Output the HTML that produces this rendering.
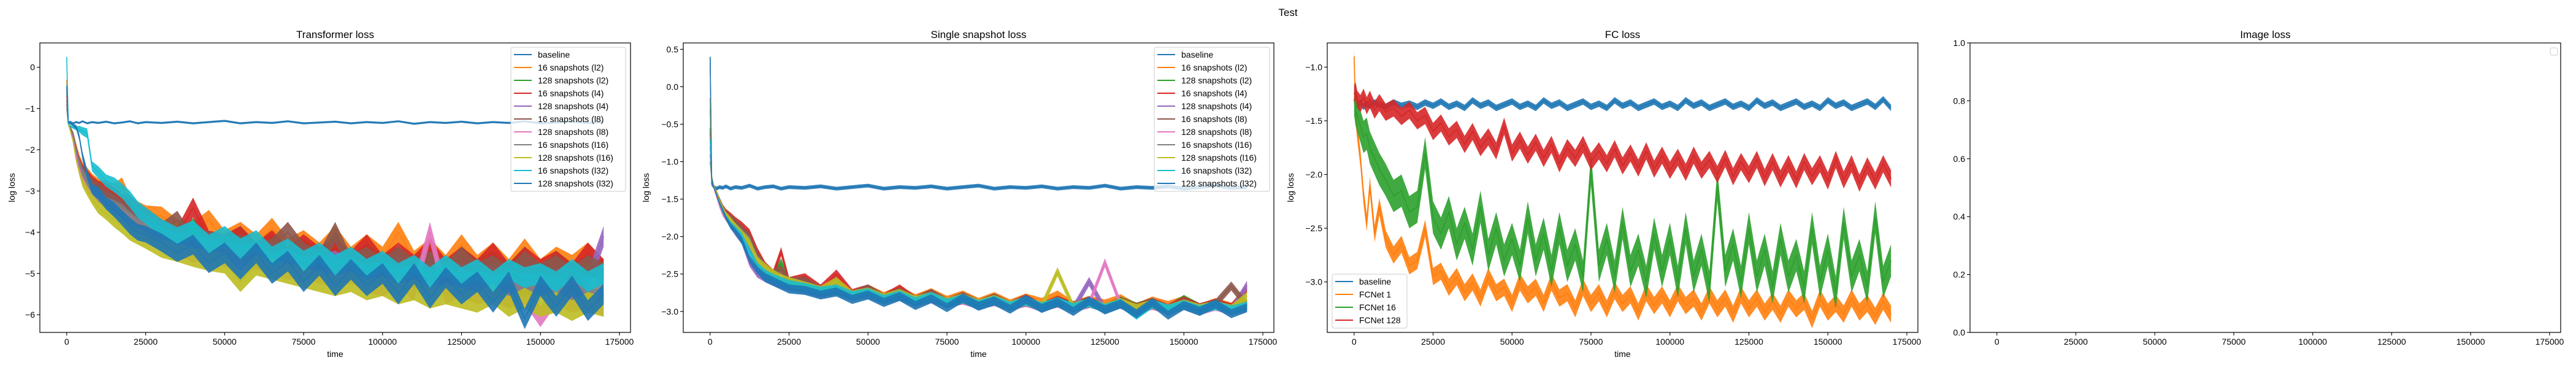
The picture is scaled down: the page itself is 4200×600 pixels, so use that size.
<!DOCTYPE html>
<html><head><meta charset="utf-8"><style>
html,body{margin:0;padding:0;background:#fff}
svg{display:block}
text{font-family:"Liberation Sans Narrow","Liberation Sans",sans-serif;fill:#000}
</style></head><body>
<svg id="fig" width="4200" height="600" viewBox="0 0 4200 600">
<text x="2100" y="26" font-size="17" text-anchor="middle">Test</text>
</svg>
<script>
const colors=['#1f77b4','#ff7f0e','#2ca02c','#d62728','#9467bd','#8c564b','#e377c2','#7f7f7f','#bcbd22','#17becf','#1f77b4'];
const snapNames=['baseline','16 snapshots (l2)','128 snapshots (l2)','16 snapshots (l4)','128 snapshots (l4)','16 snapshots (l8)','128 snapshots (l8)','16 snapshots (l16)','128 snapshots (l16)','16 snapshots (l32)','128 snapshots (l32)'];
const xTicks=[0,25000,50000,75000,100000,125000,150000,175000];
const times=[0,500,1000,2000,3000,4000,5000,6500,8000,10000,12500,15000,17500,20000,22500,25000,30000,35000,40000,45000,50000,55000,60000,65000,70000,75000,80000,85000,90000,95000,100000,105000,110000,115000,120000,125000,130000,135000,140000,145000,150000,155000,160000,165000,170000];
const fcTimes=[0,500,1000,2000,3000,4000,5000,6500,8000,10000,12500,15000,17500,20000,22500,25000,27500,30000,32500,35000,37500,40000,42500,45000,47500,50000,52500,55000,57500,60000,62500,65000,67500,70000,72500,75000,77500,80000,82500,85000,87500,90000,92500,95000,97500,100000,102500,105000,107500,110000,112500,115000,117500,120000,122500,125000,127500,130000,132500,135000,137500,140000,142500,145000,147500,150000,152500,155000,157500,160000,162500,165000,167500,170000];

const tSpread=[0,0.02,0.02,0.03,0.05,0.08,0.1,0.12,0.12,0.15,0.15,0.18,0.18,0.2,0.2,0.2,0.22,0.22,0.24,0.24,0.25,0.25,0.25,0.25,0.25,0.25,0.25,0.25,0.25,0.25,0.25,0.25,0.25,0.25,0.25,0.25,0.25,0.25,0.25,0.25,0.25,0.25,0.25,0.25,0.25];
const sSpread=[0,0.01,0.01,0.02,0.02,0.03,0.03,0.04,0.04,0.05,0.05,0.05,0.06,0.06,0.06,0.06,0.06,0.06,0.06,0.06,0.06,0.06,0.06,0.06,0.06,0.06,0.06,0.06,0.06,0.06,0.06,0.06,0.06,0.06,0.06,0.06,0.06,0.06,0.06,0.06,0.06,0.06,0.06,0.06,0.06];
const baseSpread=0.025;
const fcSpread=[0.03,0.08,0.15,0.08];

// Transformer loss
const tBaseline=[-0.5,-1.35,-1.32,-1.36,-1.33,-1.35,-1.31,-1.36,-1.33,-1.35,-1.32,-1.36,-1.34,-1.31,-1.36,-1.33,-1.35,-1.32,-1.36,-1.33,-1.3,-1.36,-1.33,-1.35,-1.31,-1.36,-1.34,-1.32,-1.36,-1.33,-1.35,-1.31,-1.37,-1.33,-1.35,-1.32,-1.36,-1.33,-1.35,-1.31,-1.36,-1.34,-1.32,-1.35,-1.33];
const tL2s16=[-0.3,-1.36,-1.42,-1.6,-1.9,-2.2,-2.4,-2.55,-2.7,-2.85,-2.9,-3.0,-2.85,-3.3,-3.45,-3.55,-3.6,-3.9,-4.0,-3.7,-4.2,-4.0,-4.3,-3.9,-4.4,-4.2,-4.5,-4.1,-4.6,-4.3,-4.6,-4.0,-4.7,-4.4,-4.8,-4.3,-4.8,-4.5,-4.9,-4.4,-4.9,-4.6,-4.8,-4.5,-5.0];
const tL2s128=[-0.6,-1.37,-1.45,-1.65,-2.0,-2.3,-2.5,-2.65,-2.8,-2.95,-3.1,-3.2,-3.35,-3.5,-3.7,-3.8,-4.0,-4.2,-3.9,-4.3,-4.4,-4.1,-4.5,-4.3,-4.6,-4.4,-4.7,-4.3,-4.8,-4.5,-4.8,-4.6,-4.9,-4.5,-5.0,-4.6,-4.9,-4.7,-5.0,-4.6,-5.1,-4.7,-5.0,-4.8,-4.9];
const tL4s16=[-0.7,-1.36,-1.43,-1.6,-1.95,-2.25,-2.45,-2.6,-2.75,-2.9,-2.95,-3.1,-3.25,-3.3,-3.5,-3.6,-3.9,-4.1,-3.4,-4.2,-4.3,-4.1,-4.5,-4.2,-4.6,-4.3,-4.6,-4.4,-4.7,-4.3,-4.8,-4.5,-4.8,-4.4,-4.9,-4.6,-4.9,-4.5,-5.0,-4.6,-4.9,-4.7,-5.0,-4.5,-4.9];
const tL4s128=[-0.9,-1.38,-1.46,-1.7,-2.05,-2.4,-2.6,-2.75,-2.9,-3.05,-3.2,-3.3,-3.45,-3.6,-3.75,-3.9,-4.1,-4.2,-4.35,-4.3,-4.5,-4.4,-4.6,-4.5,-4.7,-4.6,-4.8,-4.7,-4.9,-4.8,-5.0,-4.8,-5.1,-4.9,-5.1,-5.0,-5.2,-5.0,-5.3,-5.1,-5.3,-5.1,-5.4,-5.2,-4.1];
const tL8s16=[-0.8,-1.36,-1.44,-1.6,-1.95,-2.3,-2.5,-2.7,-2.8,-2.95,-3.1,-3.25,-3.4,-3.55,-3.65,-3.8,-4.0,-3.7,-4.3,-4.2,-4.4,-4.3,-4.6,-4.4,-4.0,-4.5,-4.7,-4.0,-4.8,-4.6,-4.9,-4.6,-4.9,-4.7,-5.0,-4.6,-5.0,-4.8,-5.1,-4.7,-5.0,-4.8,-5.1,-4.8,-5.0];
const tL8s128=[-0.5,-1.38,-1.48,-1.75,-2.15,-2.5,-2.7,-2.9,-3.0,-3.15,-3.3,-3.45,-3.6,-3.75,-3.9,-4.0,-4.2,-4.35,-4.5,-4.45,-4.6,-4.7,-4.65,-4.8,-4.9,-4.85,-5.0,-5.1,-5.0,-5.2,-5.3,-5.1,-5.4,-4.0,-5.5,-5.3,-5.5,-5.4,-5.6,-5.5,-6.05,-5.5,-5.7,-5.6,-5.8];
const tL16s16=[-1.0,-1.37,-1.45,-1.65,-2.0,-2.3,-2.55,-2.75,-2.95,-3.1,-3.3,-3.4,-3.5,-3.7,-3.85,-3.95,-4.1,-4.25,-4.3,-4.4,-4.5,-4.55,-4.6,-4.7,-4.75,-4.8,-4.85,-4.9,-4.95,-5.0,-5.0,-5.05,-5.1,-5.1,-5.15,-5.2,-5.2,-5.25,-5.3,-5.3,-5.3,-5.35,-5.4,-5.4,-5.4];
const tL16s128=[-0.4,-1.38,-1.5,-1.8,-2.25,-2.55,-2.8,-3.0,-3.2,-3.4,-3.55,-3.7,-3.85,-4.0,-4.1,-4.2,-4.4,-4.5,-4.6,-4.7,-4.75,-5.2,-4.8,-4.9,-5.0,-5.1,-5.2,-5.3,-5.2,-5.4,-5.3,-5.5,-5.4,-5.6,-5.5,-5.6,-5.7,-5.5,-5.8,-5.6,-5.8,-5.7,-5.9,-5.7,-5.8];
const tL32s16=[0.25,-1.36,-1.42,-1.46,-1.48,-1.5,-1.55,-1.6,-2.4,-2.55,-2.75,-2.85,-3.0,-3.2,-3.45,-3.6,-3.9,-4.1,-3.95,-4.3,-4.1,-4.4,-4.2,-4.6,-4.4,-4.7,-4.5,-4.8,-4.6,-4.9,-4.7,-5.0,-4.8,-5.1,-4.8,-5.1,-4.9,-5.2,-4.9,-5.1,-5.0,-5.2,-4.9,-5.2,-5.0];
const tL32s128=[-0.45,-1.33,-1.36,-1.4,-1.45,-1.7,-2.15,-2.6,-2.95,-3.05,-3.3,-3.45,-3.65,-3.85,-4.0,-4.05,-4.25,-4.5,-4.3,-4.75,-4.5,-4.9,-4.5,-5.0,-4.7,-5.2,-4.8,-5.3,-4.9,-5.3,-5.0,-5.5,-5.0,-5.6,-5.1,-5.5,-5.2,-5.7,-5.2,-6.1,-5.3,-5.8,-5.3,-5.9,-5.5];

// Single snapshot loss
const sBaseline=[0.4,-1.3,-1.33,-1.36,-1.34,-1.35,-1.33,-1.36,-1.34,-1.35,-1.32,-1.36,-1.34,-1.33,-1.36,-1.34,-1.35,-1.33,-1.36,-1.34,-1.32,-1.36,-1.34,-1.35,-1.33,-1.36,-1.34,-1.32,-1.36,-1.34,-1.35,-1.33,-1.36,-1.34,-1.35,-1.32,-1.36,-1.34,-1.35,-1.33,-1.36,-1.34,-1.32,-1.35,-1.34];
const sL2s16=[-0.15,-1.2,-1.3,-1.42,-1.52,-1.62,-1.7,-1.8,-1.88,-1.98,-2.15,-2.35,-2.45,-2.5,-2.4,-2.62,-2.6,-2.72,-2.65,-2.78,-2.7,-2.8,-2.72,-2.83,-2.75,-2.85,-2.78,-2.88,-2.8,-2.9,-2.82,-2.88,-2.78,-2.92,-2.85,-2.9,-2.83,-2.95,-2.86,-2.92,-2.85,-2.96,-2.88,-2.94,-2.9];
const sL2s128=[-0.55,-1.22,-1.31,-1.42,-1.53,-1.63,-1.71,-1.8,-1.87,-1.97,-2.12,-2.33,-2.43,-2.52,-2.35,-2.64,-2.58,-2.74,-2.6,-2.79,-2.72,-2.83,-2.74,-2.86,-2.77,-2.89,-2.8,-2.9,-2.82,-2.93,-2.84,-2.95,-2.85,-2.93,-2.87,-2.96,-2.86,-2.94,-2.88,-2.97,-2.84,-2.95,-2.9,-2.96,-2.9];
const sL4s16=[-0.3,-1.2,-1.3,-1.4,-1.5,-1.6,-1.66,-1.72,-1.78,-1.85,-1.95,-2.2,-2.4,-2.5,-2.2,-2.6,-2.55,-2.7,-2.5,-2.76,-2.7,-2.82,-2.7,-2.85,-2.76,-2.88,-2.8,-2.9,-2.82,-2.92,-2.83,-2.94,-2.85,-2.93,-2.86,-2.95,-2.87,-2.95,-2.88,-2.96,-2.86,-2.95,-2.89,-2.95,-2.7];
const sL4s128=[-0.9,-1.22,-1.32,-1.45,-1.58,-1.68,-1.75,-1.85,-1.95,-2.05,-2.35,-2.5,-2.55,-2.6,-2.64,-2.67,-2.7,-2.76,-2.72,-2.8,-2.76,-2.85,-2.79,-2.88,-2.81,-2.9,-2.83,-2.92,-2.85,-2.94,-2.87,-2.95,-2.88,-2.96,-2.6,-2.97,-2.9,-2.98,-2.9,-2.99,-2.92,-2.98,-2.9,-2.99,-2.65];
const sL8s16=[-0.6,-1.21,-1.3,-1.4,-1.5,-1.6,-1.68,-1.75,-1.8,-1.9,-2.0,-2.25,-2.42,-2.5,-2.45,-2.6,-2.6,-2.72,-2.66,-2.78,-2.7,-2.82,-2.74,-2.85,-2.76,-2.88,-2.8,-2.9,-2.82,-2.92,-2.84,-2.94,-2.86,-2.95,-2.86,-2.96,-2.88,-2.96,-2.89,-2.97,-2.88,-2.96,-2.9,-2.66,-2.92];
const sL8s128=[-0.8,-1.23,-1.33,-1.46,-1.6,-1.7,-1.76,-1.84,-1.9,-2.0,-2.1,-2.3,-2.45,-2.55,-2.6,-2.66,-2.68,-2.75,-2.72,-2.8,-2.77,-2.84,-2.8,-2.87,-2.83,-2.89,-2.85,-2.91,-2.87,-2.93,-2.88,-2.94,-2.89,-2.95,-2.9,-2.35,-2.91,-2.97,-2.92,-2.98,-2.92,-2.99,-2.93,-2.99,-2.95];
const sL16s16=[-1.0,-1.22,-1.31,-1.42,-1.52,-1.62,-1.7,-1.8,-1.86,-1.95,-2.05,-2.3,-2.45,-2.53,-2.6,-2.65,-2.68,-2.74,-2.72,-2.79,-2.76,-2.83,-2.79,-2.86,-2.82,-2.88,-2.84,-2.9,-2.86,-2.92,-2.87,-2.93,-2.88,-2.94,-2.89,-2.95,-2.9,-2.96,-2.91,-2.96,-2.92,-2.97,-2.92,-2.97,-2.93];
const sL16s128=[-0.2,-1.21,-1.3,-1.41,-1.52,-1.62,-1.7,-1.78,-1.86,-1.96,-2.08,-2.32,-2.42,-2.5,-2.56,-2.6,-2.66,-2.72,-2.6,-2.78,-2.74,-2.82,-2.76,-2.85,-2.8,-2.88,-2.82,-2.9,-2.84,-2.92,-2.86,-2.93,-2.47,-2.94,-2.88,-2.95,-2.88,-2.96,-2.9,-2.97,-2.9,-2.96,-2.92,-2.97,-2.8];
const sL32s16=[-0.7,-1.22,-1.32,-1.44,-1.56,-1.66,-1.74,-1.84,-1.9,-2.0,-2.2,-2.4,-2.5,-2.56,-2.6,-2.64,-2.68,-2.73,-2.7,-2.79,-2.75,-2.84,-2.78,-2.87,-2.8,-2.89,-2.83,-2.91,-2.85,-2.93,-2.86,-2.94,-2.87,-2.95,-2.88,-2.96,-2.89,-3.05,-2.9,-2.97,-2.91,-2.98,-2.92,-2.98,-2.93];
const sL32s128=[0.4,-1.22,-1.32,-1.44,-1.55,-1.65,-1.75,-1.86,-1.93,-2.05,-2.3,-2.45,-2.55,-2.6,-2.65,-2.7,-2.72,-2.78,-2.74,-2.84,-2.78,-2.88,-2.8,-2.92,-2.83,-2.95,-2.82,-2.93,-2.86,-2.97,-2.84,-2.96,-2.88,-3.0,-2.86,-2.98,-2.9,-3.03,-2.88,-3.05,-2.92,-3.0,-2.9,-3.03,-2.95];

// FC loss
const fcNames=['baseline','FCNet 1','FCNet 16','FCNet 128'];
const fcBaseline=[-1.3,-1.32,-1.36,-1.33,-1.37,-1.34,-1.36,-1.33,-1.35,-1.37,-1.33,-1.36,-1.34,-1.37,-1.33,-1.36,-1.32,-1.37,-1.34,-1.38,-1.31,-1.36,-1.33,-1.38,-1.35,-1.32,-1.37,-1.34,-1.38,-1.31,-1.36,-1.33,-1.38,-1.35,-1.32,-1.37,-1.34,-1.38,-1.31,-1.36,-1.33,-1.38,-1.35,-1.32,-1.37,-1.34,-1.38,-1.31,-1.36,-1.33,-1.38,-1.35,-1.32,-1.37,-1.34,-1.38,-1.31,-1.36,-1.33,-1.38,-1.35,-1.32,-1.37,-1.34,-1.38,-1.31,-1.36,-1.33,-1.38,-1.35,-1.32,-1.37,-1.3,-1.38];
const fcNet1=[-0.9,-1.45,-1.6,-1.85,-2.2,-2.45,-2.1,-2.55,-2.3,-2.6,-2.75,-2.65,-2.85,-2.8,-2.5,-2.95,-2.9,-3.05,-2.95,-3.1,-3.0,-3.15,-2.95,-3.1,-3.05,-3.2,-3.0,-3.12,-3.05,-3.2,-3.0,-3.15,-3.1,-3.25,-3.05,-3.2,-3.1,-3.25,-3.08,-3.2,-3.12,-3.28,-3.1,-3.22,-3.12,-3.25,-3.1,-3.22,-3.15,-3.28,-3.12,-3.25,-3.15,-3.3,-3.12,-3.25,-3.15,-3.28,-3.18,-3.3,-3.15,-3.25,-3.18,-3.35,-3.15,-3.28,-3.2,-3.3,-3.15,-3.28,-3.2,-3.32,-3.18,-3.3];
const fcNet16=[-1.3,-1.4,-1.45,-1.55,-1.65,-1.62,-1.75,-1.85,-1.95,-2.05,-2.2,-2.15,-2.35,-2.3,-1.8,-2.4,-2.55,-2.35,-2.65,-2.45,-2.7,-2.3,-2.75,-2.5,-2.8,-2.6,-2.85,-2.4,-2.8,-2.55,-2.9,-2.5,-2.85,-2.65,-2.95,-1.95,-2.85,-2.6,-2.95,-2.45,-2.9,-2.7,-3.0,-2.55,-2.9,-2.6,-3.0,-2.5,-2.95,-2.7,-3.05,-2.1,-2.9,-2.65,-3.0,-2.5,-2.95,-2.7,-3.05,-2.6,-2.95,-2.75,-3.05,-2.5,-3.0,-2.7,-3.1,-2.45,-2.95,-2.75,-3.05,-2.4,-3.0,-2.8];
const fcNet128=[-1.25,-1.22,-1.3,-1.34,-1.28,-1.36,-1.3,-1.4,-1.33,-1.42,-1.38,-1.46,-1.4,-1.5,-1.45,-1.6,-1.52,-1.65,-1.58,-1.72,-1.6,-1.75,-1.65,-1.78,-1.55,-1.8,-1.68,-1.82,-1.7,-1.85,-1.72,-1.9,-1.75,-1.85,-1.72,-1.88,-1.78,-1.9,-1.76,-1.92,-1.8,-1.94,-1.78,-1.95,-1.82,-1.96,-1.84,-1.98,-1.82,-1.96,-1.86,-2.0,-1.85,-2.02,-1.88,-2.0,-1.86,-2.03,-1.88,-2.04,-1.9,-2.05,-1.88,-2.02,-1.9,-2.06,-1.86,-2.05,-1.9,-2.08,-1.92,-2.06,-1.9,-2.04];

const NS='http://www.w3.org/2000/svg';
const fig=document.getElementById('fig');
function mk(tag,attrs,parent){const e=document.createElementNS(NS,tag);for(const k in attrs)e.setAttribute(k,attrs[k]);(parent||fig).appendChild(e);return e;}
function fmt(v){return (v<0?'\u2212':'')+Math.abs(v).toString();}

function drawPanel(cfg){
  const L=cfg.left,W=963,T=70,B=542;
  const g=mk('g',{});
  
  
  const xs=v=>L+(v-(-8500))/(187000)*W;
  const ys=v=>T+(cfg.ylim[1]-v)/(cfg.ylim[1]-cfg.ylim[0])*(B-T);
  const clip=mk('clipPath',{id:'clip-'+cfg.id},g);
  mk('rect',{x:L,y:T,width:W,height:B-T},clip);
  const sg=mk('g',{'clip-path':'url(#clip-'+cfg.id+')'},g);
  cfg.series.forEach((s,i)=>{
    const n=Math.min(cfg.times.length,s.data.length);
    const sp=k=>(typeof s.spread==='number')?s.spread:s.spread[k];
    // noise band
    let up='',dn='';
    for(let k=0;k<n;k++)up+=(k?'L':'M')+xs(cfg.times[k]).toFixed(1)+','+ys(s.data[k]+sp(k)).toFixed(1);
    for(let k=n-1;k>=0;k--)dn+='L'+xs(cfg.times[k]).toFixed(1)+','+ys(s.data[k]-sp(k)).toFixed(1);
    const band=mk('path',{d:up+dn+'Z',fill:s.color,'fill-opacity':0.9,stroke:'none'},sg);
    
    
    let d='';
    for(let k=0;k<n;k++)d+=(k?'L':'M')+xs(cfg.times[k]).toFixed(1)+','+ys(s.data[k]).toFixed(1);
    const p=mk('path',{d:d,fill:'none',stroke:s.color,'stroke-width':cfg.lw,'stroke-linejoin':'round'},sg);
    
    
  });
  const fr=mk('rect',{x:L,y:T,width:W,height:B-T,fill:'none',stroke:'#000','stroke-width':1.2},g);
  
  
  xTicks.forEach(v=>{
    const x=xs(v);
    mk('line',{x1:x,y1:B,x2:x,y2:B+5,stroke:'#000','stroke-width':1.1},g);
    const t=mk('text',{x:x,y:B+20,'font-size':14,'text-anchor':'middle'},g);
    t.textContent=String(v);
    
    
  });
  cfg.yticks.forEach(v=>{
    const y=ys(v);
    mk('line',{x1:L-5,y1:y,x2:L,y2:y,stroke:'#000','stroke-width':1.1},g);
    const t=mk('text',{x:L-8,y:y+5,'font-size':14,'text-anchor':'end'},g);
    t.textContent=cfg.yfmt?cfg.yfmt(v):fmt(v);
    
    
  });
  const tt=mk('text',{x:L+W/2,y:62,'font-size':17,'text-anchor':'middle'},g);
  tt.textContent=cfg.title;
  
  
  if(cfg.xlabel){
    const xl=mk('text',{x:L+W/2,y:582,'font-size':14,'text-anchor':'middle'},g);
    xl.textContent='time';
    
    
    const yl=mk('text',{x:0,y:0,'font-size':14,'text-anchor':'middle',transform:'translate('+(cfg.ylabelX)+',306) rotate(-90)'},g);
    yl.textContent='log loss';
    
    
  }
  const lg=cfg.legend;
  const lgg=mk('g',{},g);
  
  
  mk('rect',{x:lg.x,y:lg.y,width:lg.w,height:lg.h,rx:3,fill:'#fff','fill-opacity':0.8,stroke:'#ccc','stroke-width':1},lgg);
  (lg.names||[]).forEach((nm,i)=>{
    const cy=lg.y+12+i*lg.dy;
    mk('line',{x1:lg.x+5,y1:cy,x2:lg.x+34,y2:cy,stroke:cfg.series[i].color,'stroke-width':2},lgg);
    const t=mk('text',{x:lg.x+44,y:cy+5,'font-size':14},lgg);
    t.textContent=nm;
    
    
  });
}

const tData=[tBaseline,tL2s16,tL2s128,tL4s16,tL4s128,tL8s16,tL8s128,tL16s16,tL16s128,tL32s16,tL32s128];
const sData=[sBaseline,sL2s16,sL2s128,sL4s16,sL4s128,sL8s16,sL8s128,sL16s16,sL16s128,sL32s16,sL32s128];
const fcData=[fcBaseline,fcNet1,fcNet16,fcNet128];

drawPanel({id:'transformer',left:65,title:'Transformer loss',ylim:[-6.43,0.59],yticks:[0,-1,-2,-3,-4,-5,-6],
  times:times,lw:1.6,xlabel:true,ylabelX:24,
  series:tData.map((d,i)=>({data:d,color:colors[i],spread:i===0?baseSpread:tSpread})),
  legend:{x:833,y:77,w:187,h:235,dy:21,names:snapNames}});
drawPanel({id:'single-snapshot',left:1114,title:'Single snapshot loss',ylim:[-3.28,0.585],yticks:[0.5,0,-0.5,-1,-1.5,-2,-2.5,-3],
  yfmt:v=>fmt(v).replace(/^(\u2212?)(\d)$/,'$1$2.0'),
  times:times,lw:1.6,xlabel:true,ylabelX:1058,
  series:sData.map((d,i)=>({data:d,color:colors[i],spread:i===0?baseSpread:sSpread})),
  legend:{x:1882,y:77,w:188,h:235,dy:21,names:snapNames}});
drawPanel({id:'fc',left:2164,title:'FC loss',ylim:[-3.47,-0.775],yticks:[-1,-1.5,-2,-2.5,-3],
  yfmt:v=>fmt(v).replace(/^(\u2212?)(\d)$/,'$1$2.0'),
  times:fcTimes,lw:1.8,xlabel:true,ylabelX:2109,
  series:fcData.map((d,i)=>({data:d,color:colors[i],spread:fcSpread[i]})),
  legend:{x:2172,y:447,w:122,h:88,dy:21,names:fcNames}});
drawPanel({id:'image',left:3212,title:'Image loss',ylim:[0,1],yticks:[0,0.2,0.4,0.6,0.8,1],
  yfmt:v=>v.toFixed(1),times:[],lw:2,xlabel:false,series:[],
  legend:{x:4158,y:78,w:12,h:12,dy:21,names:[]}});
</script>
</body></html>
